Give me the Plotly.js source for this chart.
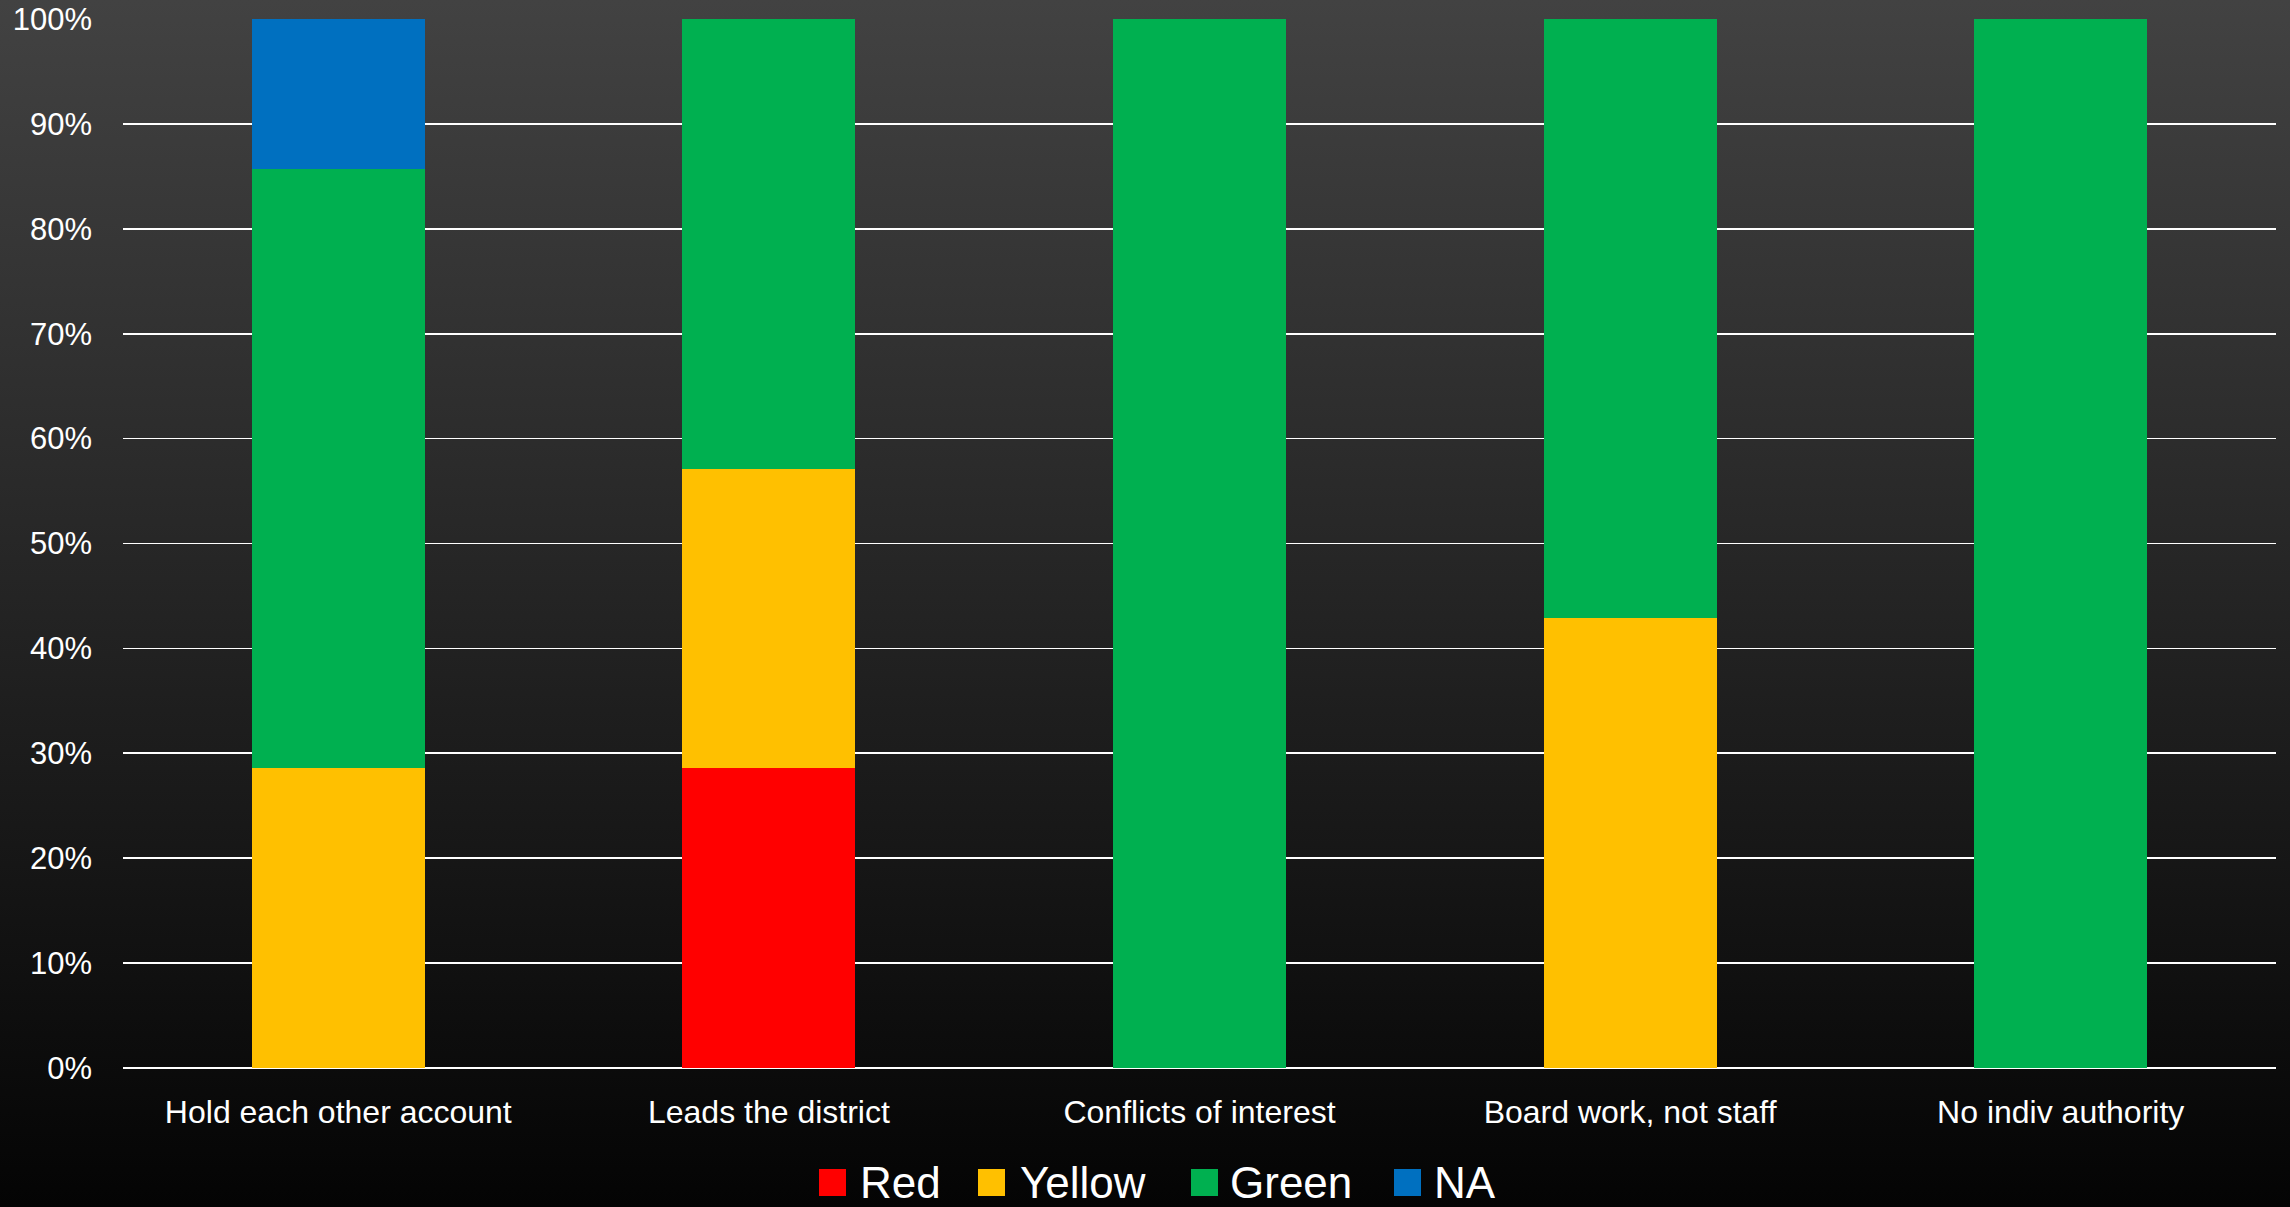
<!DOCTYPE html>
<html>
<head>
<meta charset="utf-8">
<script src="https://cdn.plot.ly/plotly-3.0.1.min.js"></script>
<style>
  html, body { margin: 0; padding: 0; width: 2290px; height: 1207px; overflow: hidden;
    background: linear-gradient(to bottom, #424242 0%, #2a2a2a 40%, #040404 100%); }
  #chart { width: 2290px; height: 1207px; }
</style>
</head>
<body>
<div id="chart"></div>
<script>
// ---- Data (percent of responses) ----
const categories = ['Hold each other account', 'Leads the district', 'Conflicts of interest', 'Board work, not staff', 'No indiv authority'];
const seriesNames = ['Red', 'Yellow', 'Green', 'NA'];
const redValues    = [0, 28.57, 0, 0, 0];
const yellowValues = [28.57, 28.57, 0, 42.86, 0];
const greenValues  = [57.14, 42.86, 100, 57.14, 100];
const naValues     = [14.29, 0, 0, 0, 0];
const seriesColors = ['#FF0000', '#FFC000', '#00B050', '#0070C0'];
const yTickValues  = [0, 10, 20, 30, 40, 50, 60, 70, 80, 90, 100];

const seriesValues = [redValues, yellowValues, greenValues, naValues];

const traces = seriesNames.map((name, i) => ({
  type: 'bar',
  name: name,
  x: categories,
  y: seriesValues[i],
  marker: { color: seriesColors[i], line: { width: 0 } },
  hoverinfo: 'x+y+name',
  showlegend: false
}));

// ---- Layout geometry (pixels) ----
const W = 2290, H = 1207;
const plotL = 123, plotR = 2276, plotT = 19, plotB = 1068;
const pw = plotR - plotL, ph = plotB - plotT;
const px2x = px => (px - plotL) / pw;
const py2y = py => (plotB - py) / ph;

const legendSquareX = [819, 978, 1191, 1394];
const legendSquareSize = 27;
const legendTextX   = [858, 1018, 1228, 1432];
const legendTop = 1169, legendMid = 1182;

const shapes = seriesNames.map((n, i) => ({
  type: 'rect', xref: 'paper', yref: 'paper',
  x0: px2x(legendSquareX[i]), x1: px2x(legendSquareX[i] + legendSquareSize),
  y0: py2y(legendTop + legendSquareSize), y1: py2y(legendTop),
  fillcolor: seriesColors[i], line: { width: 0 }
}));

const annotations = seriesNames.map((n, i) => ({
  xref: 'paper', yref: 'paper',
  x: px2x(legendTextX[i]), y: py2y(legendMid),
  xanchor: 'left', yanchor: 'middle',
  height: 48,
  text: n, showarrow: false,
  font: { family: 'Liberation Sans, Arial, sans-serif', size: 44, color: '#FFFFFF' }
}));

const layout = {
  width: W, height: H,
  margin: { l: plotL, r: W - plotR, t: plotT, b: H - plotB, pad: 0 },
  paper_bgcolor: 'rgba(0,0,0,0)',
  plot_bgcolor: 'rgba(0,0,0,0)',
  barmode: 'stack',
  bargap: 0.598,
  showlegend: false,
  xaxis: {
    type: 'category',
    showgrid: false,
    showline: false,
    zeroline: false,
    ticks: '',
    ticklabelstandoff: 22,
    tickfont: { family: 'Liberation Sans, Arial, sans-serif', size: 32, color: '#FFFFFF' }
  },
  yaxis: {
    range: [0, 100],
    tickvals: yTickValues,
    ticktext: yTickValues.map(v => v + '%'),
    showgrid: true,
    gridcolor: '#FFFFFF',
    gridwidth: 1.6,
    zeroline: true,
    zerolinecolor: '#FFFFFF',
    zerolinewidth: 2,
    showline: false,
    ticks: '',
    ticklabelstandoff: 30,
    tickfont: { family: 'Liberation Sans, Arial, sans-serif', size: 31, color: '#FFFFFF' }
  },
  shapes: shapes,
  annotations: annotations
};

Plotly.newPlot('chart', traces, layout, { displayModeBar: false, staticPlot: true });
</script>
</body>
</html>
